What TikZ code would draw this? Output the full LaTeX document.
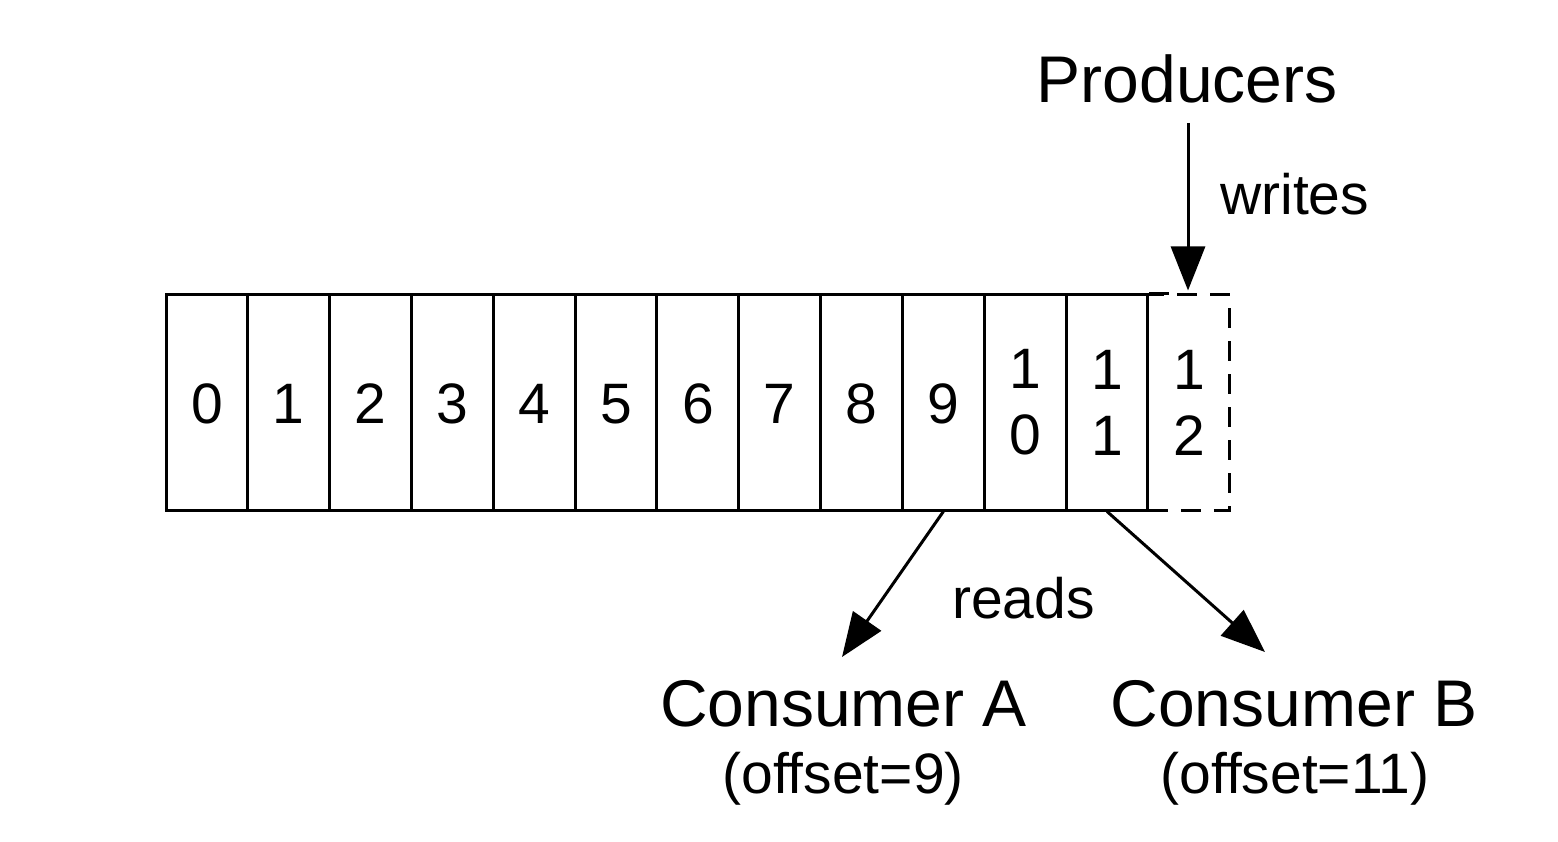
\documentclass[tikz,border=0pt]{standalone}
\usepackage{fontspec}
\setmainfont{Liberation Sans}
\usetikzlibrary{arrows.meta}
\begin{document}
\begin{tikzpicture}[x=1pt,y=-1pt,
  cell/.style={draw,line width=3pt,minimum width=81.83pt,minimum height=215pt,inner sep=0pt,align=center,font=\fontsize{57}{66}\selectfont},
  dcell/.style={cell,dash pattern=on 20pt off 13pt},
  big/.style={inner sep=0pt,font=\fontsize{66}{79}\selectfont},
  small/.style={inner sep=0pt,font=\fontsize{57}{68}\selectfont},
  arr/.style={line width=3pt,-{Triangle[length=44pt,width=34pt]}}]
\useasboundingbox (0,0) rectangle (1558,842);
\foreach \i in {0,...,9}{
  \node[cell] (c\i) at ({166+81.83*(\i+0.5)},402.5) {\raisebox{0pt}[41pt][0pt]{\i}};
}
\node[cell] (c10) at ({166+81.83*10.5},402.5) {1\\0};
\node[cell] (c11) at ({166+81.83*11.5},402.5) {1\\1};
\node[dcell] (c12) at ({166+81.83*12.5},402.5) {1\\2};
\draw[line width=3pt] (c11.north east) -- ++(20,0);
\node[big,anchor=base] (prod) at (1187,103) {Producers};
\node[small,anchor=base west] (writes) at (1220,215) {writes};
\node[small,anchor=base west] (reads) at (952,618) {reads};
\node[big,anchor=base] (ca) at (843.5,726) {Consumer A};
\node[small,anchor=base] (oa) at (843,793) {(offset=9)};
\node[big,anchor=base] (cb) at (1294,726) {Consumer B};
\node[small,anchor=base] (ob) at (1295,793) {(offset=11)};
\coordinate (pw) at (1188,123);
\coordinate (ta) at (842,657);
\coordinate (tb) at (1265,652);
\draw[arr,shorten >=3pt] (pw) -- (pw |- c12.north);
\draw[arr] (c9.south) -- (ta);
\draw[arr] (c11.south) -- (tb);
\end{tikzpicture}
\end{document}
